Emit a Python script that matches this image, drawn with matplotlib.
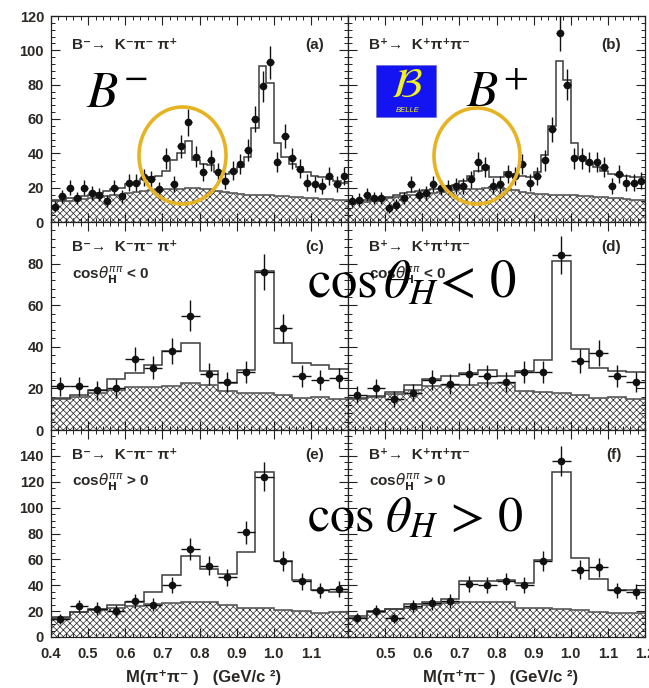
import numpy as np
import matplotlib
matplotlib.use("Agg")
import matplotlib.pyplot as plt
from matplotlib.patches import Ellipse, Rectangle
from matplotlib.ticker import MultipleLocator

# ---------------- data ----------------
mass_lo, mass_hi = 0.4, 1.2

# (a) B- -> K- pi- pi+, 0.02 GeV bins
a_counts = [9, 15, 20, 14, 20, 17, 16, 12, 20, 15, 23, 23, 26, 25, 19, 37, 22, 44, 58, 38,
            29, 36, 29, 24, 30, 34, 42, 60, 79, 93, 35, 50, 37, 31, 23, 22, 21, 27, 22, 27]
a_fit = [13, 13, 14, 14, 15, 16, 17, 18, 19, 20, 22, 23, 25, 26, 27, 30, 36, 40, 47, 36,
         34, 33, 29, 28, 29, 32, 38, 55, 91, 81, 46, 38, 34, 32, 29, 27, 26, 25, 24, 23]
a_bkg = [12, 12, 12.5, 13, 13.5, 14, 14.5, 15, 15.5, 16, 17, 17.5, 18, 18.5, 19, 19, 19, 19.5, 20, 20,
         19.5, 19, 18, 17.5, 17, 16.5, 16, 16, 15.5, 15.5, 15, 15, 14.5, 14.5, 14, 14, 13.5, 13.5, 13, 13]

# (b) B+ -> K+ pi+ pi-, 0.02 GeV bins
b_counts = [12, 13, 16, 14, 14, 8, 10, 14, 22, 16, 17, 22, 20, 20, 21, 21, 25, 35, 32, 21,
            22, 28, 27, 34, 23, 27, 36, 54, 110, 80, 37, 37, 35, 35, 32, 21, 28, 23, 23, 24]
b_fit = [12, 12.5, 13, 13.5, 14, 14.5, 15.5, 17, 17.5, 18, 18.5, 19, 19.5, 21, 21.5, 24, 27, 30, 32.5, 26,
         26, 29, 28, 27, 26.5, 29, 39, 56, 94, 82.5, 46, 38, 34, 32, 30, 28, 27.5, 27, 26.5, 26]
b_bkg = [10.5, 11, 11.5, 12.5, 13.5, 14, 14.5, 15, 15.5, 16, 16.5, 17, 17.5, 18, 18.5, 19, 19.5, 19.5, 20, 20.5,
         20, 19.5, 18.5, 17.5, 17, 16.5, 16.5, 16, 16, 15.5, 15.5, 15, 15, 14.5, 14.5, 14, 14, 13.5, 13, 13]

# (c) B-, cos(theta_H) < 0, 0.05 GeV bins
c_counts = [21, 21, 19, 20, 34, 30, 38, 55, 27, 23, 28, 76, 49, 26, 24, 25]
c_fit = [15.5, 16.7, 19.4, 24.3, 27.5, 31.2, 37.9, 41.6, 28.3, 22.7, 28.8, 76.6, 41.8, 32.4, 31.1, 29.2]
c_bkg = [15, 16, 17.8, 19.4, 20.5, 20.5, 21.3, 22.6, 21.8, 18.9, 17.8, 17.8, 17.0, 15.4, 15.7, 15]

# (d) B+, cos(theta_H) < 0
d_counts = [17, 20, 15, 18, 24, 22, 27, 26, 23, 28, 28, 84, 33, 37, 26, 23]
d_fit = [15.2, 16.2, 18.2, 21.6, 24.3, 26, 27.5, 28.8, 26, 28.3, 33.6, 81.3, 38.8, 29.6, 28.6, 27.8]
d_bkg = [14.9, 15.7, 17.5, 19.4, 21.0, 21.5, 21.8, 22.7, 22.7, 18.6, 18.1, 17.8, 16.7, 15.4, 15.7, 15.0]

# (e) B-, cos(theta_H) > 0
e_counts = [14, 24, 22, 20, 28, 25, 40, 68, 55, 46, 81, 124, 59, 43, 36, 37]
e_fit = [15.8, 19.5, 21.5, 24.4, 27.4, 34.8, 48.3, 62.4, 52.8, 49.0, 65.8, 127.3, 59.1, 43.8, 36.0, 34.8]
e_bkg = [14.5, 19.2, 21.0, 22.3, 23.6, 25.7, 26.2, 26.7, 27.0, 24.9, 22.8, 22.3, 20.5, 20.2, 18.4, 19.2]

# (f) B+, cos(theta_H) > 0
f_counts = [15, 20, 15, 24, 26, 28, 41, 40, 43, 40, 59, 136, 52, 54, 36, 35]
f_fit = [16.6, 19.9, 21.7, 25.4, 27.4, 29.3, 43.0, 43.5, 44.3, 41.7, 59.9, 127.3, 60.7, 45.1, 36.5, 36.0]
f_bkg = [15.0, 19.7, 21.5, 22.8, 24.9, 26.2, 26.7, 27.0, 27.0, 22.8, 22.3, 21.8, 21.0, 19.7, 18.4, 18.9]

mode_minus = "B⁻→  K⁻π⁻ π⁺"
mode_plus = "B⁺→  K⁺π⁺π⁻"
helicity_neg = r"cos$\theta^{\pi\pi}_{\mathbf{H}}$ < 0"
helicity_pos = r"cos$\theta^{\pi\pi}_{\mathbf{H}}$ > 0"
x_title = "M(π⁺π⁻ )   (GeV/c ²)"
x_tick_vals = [0.4, 0.5, 0.6, 0.7, 0.8, 0.9, 1.0, 1.1, 1.2]

# ---------------- style ----------------
plt.rcParams["font.family"] = ["Liberation Sans", "DejaVu Sans"]
plt.rcParams["hatch.linewidth"] = 0.55
plt.rcParams["hatch.color"] = "#333333"

TXT = "#2b2724"
W, H = 649, 688
fig = plt.figure(figsize=(W / 100, H / 100), dpi=100)


def add_axes_px(x0, y0, x1, y1):
    return fig.add_axes([x0 / W, 1 - y1 / H, (x1 - x0) / W, (y1 - y0) / H])


cols = [(51, 348), (348, 645)]
rows = [(16, 222), (222, 430), (430, 637)]
row_ylim = [120, 100, 160]
row_yticks = [np.arange(0, 121, 20), np.arange(0, 81, 20), np.arange(0, 141, 20)]

panels = [
    [(a_counts, a_fit, a_bkg, mode_minus, None, "(a)"),
     (b_counts, b_fit, b_bkg, mode_plus, None, "(b)")],
    [(c_counts, c_fit, c_bkg, mode_minus, helicity_neg, "(c)"),
     (d_counts, d_fit, d_bkg, mode_plus, helicity_neg, "(d)")],
    [(e_counts, e_fit, e_bkg, mode_minus, helicity_pos, "(e)"),
     (f_counts, f_fit, f_bkg, mode_plus, helicity_pos, "(f)")],
]

for r, (y0, y1) in enumerate(rows):
    for c, (x0, x1) in enumerate(cols):
        counts, fit, bkg, mode, hel, tag = panels[r][c]
        counts = np.asarray(counts, float)
        nb = len(counts)
        edges = np.linspace(mass_lo, mass_hi, nb + 1)
        centers = 0.5 * (edges[:-1] + edges[1:])
        half = 0.5 * np.diff(edges)

        ax = add_axes_px(x0, y0, x1, y1)
        ax.set_xlim(mass_lo, mass_hi)
        ax.set_ylim(0, row_ylim[r])

        # background (hatched) and total fit
        ax.stairs(bkg, edges, baseline=0, fill=True, facecolor="white",
                  edgecolor="#333333", hatch="xxxxx", lw=0, zorder=1)
        ax.stairs(bkg, edges, baseline=None, color="#5a5a5a", lw=1.2, zorder=2)
        ax.stairs(fit, edges, baseline=None, color="#3c3c3c", lw=1.1, zorder=3)
        ax.errorbar(centers, counts, yerr=np.sqrt(counts), xerr=half, fmt="o",
                    ms=4.5, color="#111111", mec="#111111", elinewidth=1.0,
                    capsize=0, zorder=4)

        # ticks
        ax.xaxis.set_minor_locator(MultipleLocator(0.02))
        ax.yaxis.set_minor_locator(MultipleLocator(4 if r < 2 else 5))
        ax.tick_params(which="both", direction="in", top=True, right=True,
                       colors="#222222", labelcolor=TXT, labelsize=10.5)
        ax.tick_params(which="major", length=6.5, width=0.8)
        ax.tick_params(which="minor", length=3.2, width=0.7)
        ax.tick_params(axis="x", pad=7)
        ax.tick_params(axis="y", pad=5)
        ax.set_yticks(row_yticks[r])
        if c == 1:
            ax.set_yticklabels([])
        ax.set_xticks(x_tick_vals)
        if r == 2:
            if c == 0:
                labels = [f"{v:.1f}" for v in x_tick_vals[:-1]] + [""]
            else:
                labels = [""] + [f"{v:.1f}" for v in x_tick_vals[1:]]
            ax.set_xticklabels(labels)
            ax.set_xlabel(x_title, fontsize=12, color=TXT, fontweight="bold")
            ax.xaxis.set_label_coords(0.515, -0.16)
        else:
            ax.set_xticklabels([])
        for lbl in ax.get_xticklabels() + ax.get_yticklabels():
            lbl.set_fontweight("bold")
        for s in ax.spines.values():
            s.set_linewidth(0.9)
            s.set_color("#222222")

        # panel captions
        lx = 0.07
        ly = 0.86 if r == 0 else 0.88
        ax.text(lx, ly, mode, transform=ax.transAxes, fontsize=11, color=TXT,
                fontweight="bold", va="center", ha="left", zorder=6)
        ax.text(0.92, ly, tag, transform=ax.transAxes, fontsize=11, color=TXT,
                fontweight="bold", va="center", ha="right", zorder=6)
        if hel is not None:
            ax.text(lx, 0.745, hel, transform=ax.transAxes, fontsize=11, color=TXT,
                    fontweight="bold", va="center", ha="left",
                    math_fontfamily="dejavusans", zorder=6)

# ---------------- annotations drawn over the panels ----------------
def fx(px):
    return px / W


def fy(py):
    return 1 - py / H


gold = "#e6b422"
for cx, cy, w, h in [(182.5, 155.5, 87, 97), (477, 156, 86, 96)]:
    fig.add_artist(Ellipse((fx(cx), fy(cy)), w / W, h / H, transform=fig.transFigure,
                           fill=False, edgecolor=gold, lw=2.6, zorder=20))

fig.text(fx(86), fy(107), r"$B^{-}$", math_fontfamily="stix", fontsize=37,
         color="black", ha="left", va="baseline", zorder=21)
fig.text(fx(466), fy(107), r"$B^{+}$", math_fontfamily="stix", fontsize=37,
         color="black", ha="left", va="baseline", zorder=21)

# Belle logo
fig.add_artist(Rectangle((fx(376), fy(117)), 60 / W, 52 / H, transform=fig.transFigure,
                         facecolor="#1414f2", edgecolor="#6a6ad0", lw=0.5, zorder=20))
fig.text(fx(407), fy(86), r"$\mathcal{B}$", math_fontfamily="stix", fontsize=30,
         color="#f2f21e", ha="center", va="center", zorder=21)
fig.text(fx(408), fy(110), "BELLE", fontsize=5.5, style="italic",
         color="#f2f21e", ha="center", va="center", zorder=21)

fig.text(fx(307), fy(298), r"$\cos\theta_H\! <\, 0$", math_fontfamily="stix", fontsize=38,
         color="black", ha="left", va="baseline", zorder=21)
fig.text(fx(307), fy(531), r"$\cos\,\theta_H\, >\, 0$", math_fontfamily="stix", fontsize=36,
         color="black", ha="left", va="baseline", zorder=21)

fig.savefig("out.png", dpi=100, facecolor="white")
